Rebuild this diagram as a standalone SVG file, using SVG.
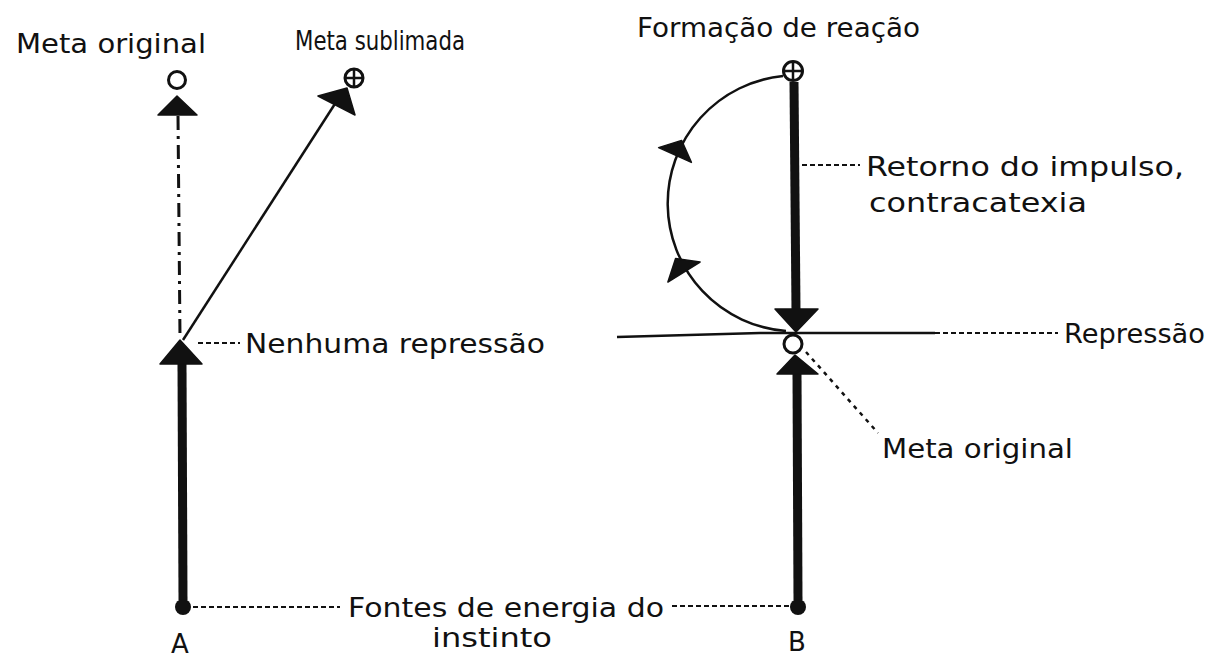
<svg xmlns="http://www.w3.org/2000/svg" width="1216" height="657" viewBox="0 0 1216 657">
<style>
  text { font-family: "DejaVu Sans", "Liberation Sans", sans-serif; font-size: 26px; fill: #111; }
  .thick { stroke: #111; stroke-width: 9; fill: none; }
  .thin { stroke: #111; stroke-width: 2.5; fill: none; }
  .dashdot { stroke: #111; stroke-width: 3; fill: none; stroke-dasharray: 14 6 3 6; }
  .leader { stroke: #111; stroke-width: 2; fill: none; stroke-dasharray: 5 3; }
  .dotted { stroke: #111; stroke-width: 2.5; fill: none; stroke-dasharray: 4 5; }
  .head { fill: #111; stroke: #111; stroke-width: 1.5; stroke-linejoin: round; }
  .ring { fill: #fff; stroke: #111; stroke-width: 3; }
  .dot { fill: #111; }
</style>
<rect width="1216" height="657" fill="#fff"/>

<g id="connectors">
  <line class="dashdot" x1="178" y1="116" x2="180" y2="338"/>
  <line class="thin" x1="183" y1="340" x2="340" y2="96"/>
  <line class="thick" x1="182" y1="364" x2="183" y2="600"/>
  <line class="thick" x1="794" y1="82" x2="796" y2="310"/>
  <line class="thick" x1="797" y1="372" x2="798" y2="600"/>
  <path class="thin" d="M 783 76 A 128 128 0 0 0 786 331"/>
  <polyline class="thin" points="617,337 760,333 935,333"/>
  <line class="leader" x1="935" y1="333" x2="1058" y2="333"/>
  <line class="leader" x1="198" y1="343" x2="240" y2="343"/>
  <line class="leader" x1="802" y1="165" x2="860" y2="165"/>
  <line class="dotted" x1="806" y1="352" x2="878" y2="433"/>
  <line class="leader" x1="193" y1="607" x2="340" y2="607"/>
  <line class="leader" x1="672" y1="606" x2="790" y2="606"/>

  <polygon class="head" points="177,96 158,115 197,115"/>
  <polygon class="head" points="180,340 160,364 202,364"/>
  <polygon class="head" points="347,88 318,96 355,115"/>
  <polygon class="head" points="775,309 818,309 796,332"/>
  <polygon class="head" points="795,355 777,374 818,374"/>
  <polygon class="head" points="681.6,140.4 691.4,162.4 658.6,147.6"/>
  <polygon class="head" points="675.6,258.4 700.1,262 667.9,282"/>
</g>

<g id="node-a-original-goal">
  <circle class="ring" cx="177" cy="80" r="8.5"/>
  <text x="16" y="53" textLength="190" lengthAdjust="spacingAndGlyphs">Meta original</text>
</g>
<g id="node-a-sublimated-goal">
  <circle class="ring" cx="354" cy="78" r="9"/>
  <line x1="345" y1="78" x2="363" y2="78" stroke="#111" stroke-width="2.5"/>
  <line x1="354" y1="69" x2="354" y2="87" stroke="#111" stroke-width="2.5"/>
  <text x="295" y="50" font-size="23" textLength="170" lengthAdjust="spacingAndGlyphs">Meta sublimada</text>
</g>
<g id="node-a-junction">
  <text x="245" y="353" textLength="300" lengthAdjust="spacingAndGlyphs">Nenhuma repressão</text>
</g>
<g id="node-a-source">
  <circle class="dot" cx="183" cy="607" r="8"/>
  <text x="180" y="653" text-anchor="middle">A</text>
</g>
<g id="node-b-reaction">
  <circle class="ring" cx="793" cy="71" r="9.5"/>
  <line x1="783.5" y1="71" x2="802.5" y2="71" stroke="#111" stroke-width="2.5"/>
  <line x1="793" y1="61.5" x2="793" y2="80.5" stroke="#111" stroke-width="2.5"/>
  <text x="637" y="37" textLength="283" lengthAdjust="spacingAndGlyphs">Formação de reação</text>
</g>
<g id="node-b-return">
  <text x="866" y="176" textLength="318" lengthAdjust="spacingAndGlyphs">Retorno do impulso,</text>
  <text x="869" y="212" textLength="218" lengthAdjust="spacingAndGlyphs">contracatexia</text>
</g>
<g id="node-b-repression">
  <text x="1064" y="343" textLength="141" lengthAdjust="spacingAndGlyphs">Repressão</text>
</g>
<g id="node-b-original-goal">
  <circle class="ring" cx="793" cy="344" r="9"/>
  <text x="882" y="458" textLength="191" lengthAdjust="spacingAndGlyphs">Meta original</text>
</g>
<g id="node-b-source">
  <circle class="dot" cx="798" cy="607" r="8"/>
  <text x="797" y="651" text-anchor="middle">B</text>
</g>
<g id="node-sources-label">
  <text x="348" y="617" textLength="316" lengthAdjust="spacingAndGlyphs">Fontes de energia do</text>
  <text x="432" y="647" textLength="120" lengthAdjust="spacingAndGlyphs">instinto</text>
</g>
</svg>
